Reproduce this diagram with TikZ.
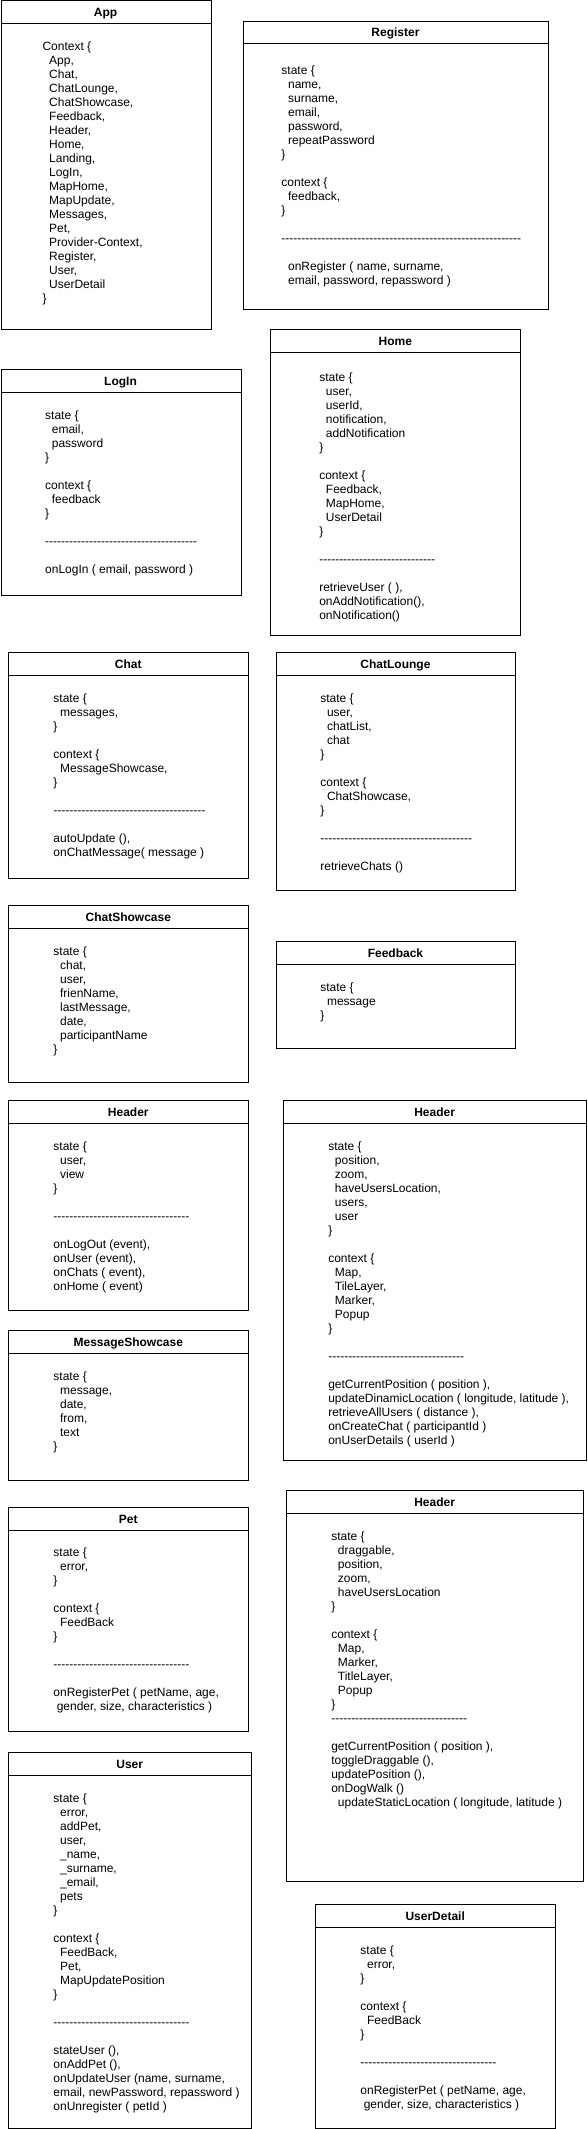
\documentclass[tikz,border=0pt]{standalone}
\usepackage{fontspec}
\setmainfont{Liberation Sans}
\ExplSyntaxOn
\NewDocumentCommand\dashrow{m}{\prg_replicate:nn{#1}{-\kern0pt}}
\ExplSyntaxOff
\newcommand\I{\hspace*{5pt}}
\newcommand\J{\hspace*{2.5pt}}
\newcommand\B{\mbox{}}
\tikzset{
  boxline/.style={draw=black, line width=0.75pt, inner sep=0pt, anchor=north west},
  titletext/.style={font=\fontsize{9}{10.5}\selectfont\bfseries, inner sep=0pt, anchor=base},
  bodytext/.style={font=\fontsize{9}{10.5}\selectfont, align=left, anchor=north west, inner sep=0pt},
}
% #1 name, #2 x1, #3 y1, #4 x2, #5 y2, #6 title
\newcommand\umlclass[6]{%
  \node[boxline, minimum width={(#4-#2)*0.75pt}, minimum height={(#5-#3)*0.75pt}] (#1-box) at (#2,#3) {};
  \draw[line width=0.75pt] (#2,#3+23) -- (#4,#3+23);
  \node[titletext] (#1-title) at ({(#2+#4)/2},{#3+16.3}) {#6};
}
\begin{document}
\begin{tikzpicture}[x=0.75pt,y=-0.75pt]
\useasboundingbox (0,0) rectangle (587,2129);

% App
\umlclass{app}{0.5}{0.5}{210.5}{329.3}{App}
\node[bodytext] (app-body) at (42.3,40.2) {\strut Context \{\\ \I App,\\ \I Chat,\\ \I ChatLounge,\\ \I ChatShowcase,\\ \I Feedback,\\ \I Header,\\ \I Home,\\ \I Landing,\\ \I LogIn,\\ \I MapHome,\\ \I MapUpdate,\\ \I Messages,\\ \I Pet,\\ \I Provider-Context,\\ \I Register,\\ \I User,\\ \I UserDetail\\ \}};

% Register
\umlclass{register}{243.4}{20.7}{547.5}{309.3}{Register}
\node[bodytext] (register-body) at (281.2,64.2) {\strut state \{\\ \I name,\\ \I surname,\\ \I email,\\ \I password,\\ \I repeatPassword\\ \}\\ \B\\ context \{\\ \I feedback,\\ \}\\ \B\\ \dashrow{60}\\ \B\\ \I onRegister ( name, surname,\\ \I email, password, repassword )};

% Home
\umlclass{home}{270.4}{329.3}{520.4}{635.3}{Home}
\node[bodytext] (home-body) at (319,371.2) {\strut state \{\\ \I user,\\ \I userId,\\ \I notification,\\ \I addNotification\\ \}\\ \B\\ context \{\\ \I Feedback,\\ \I MapHome,\\ \I UserDetail\\ \}\\ \B\\ \dashrow{29}\\ \B\\ retrieveUser ( ),\\ onAddNotification(),\\ onNotification()};

% LogIn
\umlclass{login}{0.5}{369.3}{240.5}{595.3}{LogIn}
\node[bodytext] (login-body) at (44.9,409.2) {\strut state \{\\ \I email,\\ \I password\\ \}\\ \B\\ context \{\\ \I feedback\\ \}\\ \B\\ \dashrow{38}\\ \B\\ onLogIn ( email, password )};

% Chat
\umlclass{chat}{8.2}{652.3}{248.4}{878.3}{Chat}
\node[bodytext] (chat-body) at (53.2,692.2) {\strut state \{\\ \I messages,\\ \}\\ \B\\ context \{\\ \I MessageShowcase,\\ \}\\ \B\\ \dashrow{38}\\ \B\\ autoUpdate (),\\ onChatMessage( message )};

% ChatLounge
\umlclass{chatlounge}{275.6}{652.3}{515.3}{890.3}{ChatLounge}
\node[bodytext] (chatlounge-body) at (320.1,692.2) {\strut state \{\\ \I user,\\ \I chatList,\\ \I chat\\ \}\\ \B\\ context \{\\ \I ChatShowcase,\\ \}\\ \B\\ \dashrow{38}\\ \B\\ retrieveChats ()};

% ChatShowcase
\umlclass{chatshowcase}{8.2}{905.3}{248.4}{1082.3}{ChatShowcase}
\node[bodytext] (chatshowcase-body) at (53.2,945.2) {\strut state \{\\ \I chat,\\ \I user,\\ \I frienName,\\ \I lastMessage,\\ \I date,\\ \I participantName\\ \}};

% Feedback
\umlclass{feedback}{275.6}{941.3}{515.3}{1048.3}{Feedback}
\node[bodytext] (feedback-body) at (320.1,981.2) {\strut state \{\\ \I message\\ \}};

% Header (left)
\umlclass{headerA}{8.2}{1100.3}{248.4}{1310.3}{Header}
\node[bodytext] (headerA-body) at (53.2,1140.2) {\strut state \{\\ \I user,\\ \I view\\ \}\\ \B\\ \dashrow{34}\\ \B\\ onLogOut (event),\\ onUser (event),\\ onChats ( event),\\ onHome ( event)};

% Header (right, map)
\umlclass{headerB}{283.2}{1100.3}{586}{1460.3}{Header}
\node[bodytext] (headerB-body) at (328,1140.2) {\strut state \{\\ \I position,\\ \I zoom,\\ \I haveUsersLocation,\\ \I users,\\ \I user\\ \}\\ \B\\ context \{\\ \I Map,\\ \I TileLayer,\\ \I Marker,\\ \I Popup\\ \}\\ \B\\ \dashrow{34}\\ \B\\ getCurrentPosition ( position ),\\ updateDinamicLocation ( longitude, latitude ),\\ retrieveAllUsers ( distance ),\\ onCreateChat ( participantId )\\ onUserDetails ( userId )};

% MessageShowcase
\umlclass{messageshowcase}{8.2}{1330}{248.4}{1480}{MessageShowcase}
\node[bodytext] (messageshowcase-body) at (53.2,1370.2) {\strut state \{\\ \I message,\\ \I date,\\ \I from,\\ \I text\\ \}};

% Pet
\umlclass{pet}{8.2}{1507.3}{248.4}{1731}{Pet}
\node[bodytext] (pet-body) at (53.2,1546.8) {\strut state \{\\ \I error,\\ \}\\ \B\\ context \{\\ \I FeedBack\\ \}\\ \B\\ \dashrow{34}\\ \B\\ onRegisterPet ( petName, age,\\ \J gender, size, characteristics )};

% Header (right, drag)
\umlclass{headerC}{286.2}{1490.3}{583}{1880.7}{Header}
\node[bodytext] (headerC-body) at (331,1530.2) {\strut state \{\\ \I draggable,\\ \I position,\\ \I zoom,\\ \I haveUsersLocation\\ \}\\ \B\\ context \{\\ \I Map,\\ \I Marker,\\ \I TitleLayer,\\ \I Popup\\ \}\\ \dashrow{34}\\ \B\\ getCurrentPosition ( position ),\\ toggleDraggable (),\\ updatePosition (),\\ onDogWalk ()\\ \I updateStaticLocation ( longitude, latitude )};

% User
\umlclass{user}{8.2}{1752.3}{251.2}{2128}{User}
\node[bodytext] (user-body) at (53.2,1792.2) {\strut state \{\\ \I error,\\ \I addPet,\\ \I user,\\ \I \_name,\\ \I \_surname,\\ \I \_email,\\ \I pets\\ \}\\ \B\\ context \{\\ \I FeedBack,\\ \I Pet,\\ \I MapUpdatePosition\\ \}\\ \B\\ \dashrow{34}\\ \B\\ stateUser (),\\ onAddPet (),\\ onUpdateUser (name, surname,\\ email, newPassword, repassword )\\ onUnregister ( petId )};

% UserDetail
\umlclass{userdetail}{315.2}{1904}{555.2}{2128}{UserDetail}
\node[bodytext] (userdetail-body) at (360.2,1944.8) {\strut state \{\\ \I error,\\ \}\\ \B\\ context \{\\ \I FeedBack\\ \}\\ \B\\ \dashrow{34}\\ \B\\ onRegisterPet ( petName, age,\\ \J gender, size, characteristics )};

\end{tikzpicture}
\end{document}
